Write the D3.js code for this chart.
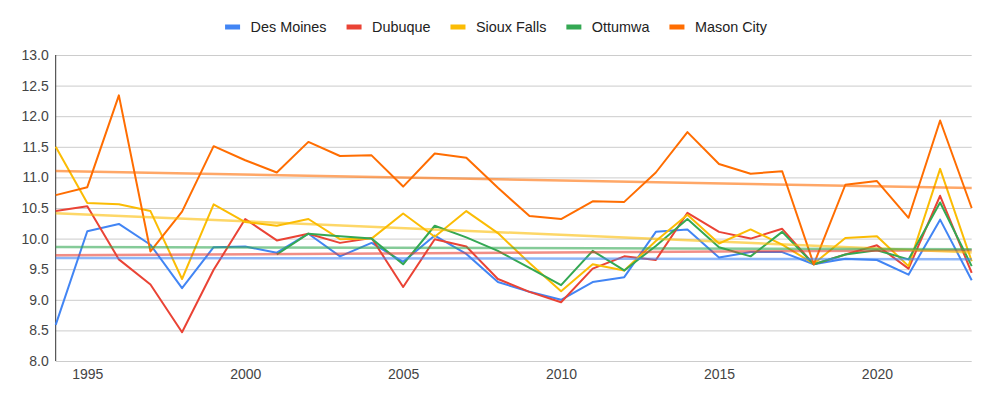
<!DOCTYPE html>
<html>
<head>
<meta charset="utf-8">
<script src="https://cdn.jsdelivr.net/npm/d3@7"></script>
<style>
  html, body { margin: 0; padding: 0; background: #fff; }
  svg { display: block; font-family: "Liberation Sans", Arial, sans-serif; }
</style>
</head>
<body>
<svg id="chart" width="992" height="404"></svg>
<script>
const years = [1994,1995,1996,1997,1998,1999,2000,2001,2002,2003,2004,2005,2006,2007,2008,2009,2010,2011,2012,2013,2014,2015,2016,2017,2018,2019,2020,2021,2022,2023];

const desMoines = [8.59,10.12,10.24,9.90,9.19,9.86,9.87,9.77,10.08,9.71,9.93,9.62,10.05,9.75,9.29,9.13,9.00,9.29,9.37,10.11,10.15,9.69,9.78,9.78,9.58,9.67,9.65,9.41,10.31,9.32];
const dubuque = [10.45,10.53,9.66,9.25,8.47,9.49,10.32,9.97,10.08,9.93,10.01,9.21,9.99,9.87,9.34,9.13,8.96,9.51,9.71,9.65,10.42,10.11,10.00,10.16,9.58,9.74,9.89,9.51,10.70,9.44];
const siouxFalls = [11.50,10.58,10.56,10.45,9.34,10.56,10.27,10.21,10.32,9.99,10.00,10.41,10.03,10.45,10.09,9.60,9.14,9.58,9.48,9.96,10.39,9.92,10.15,9.90,9.59,10.01,10.04,9.55,11.14,9.63];
const ottumwa = [null,null,null,null,null,null,null,9.74,10.08,10.04,10.00,9.58,10.21,10.02,9.80,9.52,9.24,9.80,9.48,9.88,10.32,9.86,9.71,10.11,9.58,9.74,9.81,9.66,10.59,9.55];
const masonCity = [10.71,10.84,12.34,9.79,10.44,11.51,11.28,11.08,11.58,11.35,11.36,10.85,11.39,11.32,10.83,10.37,10.32,10.61,10.60,11.08,11.74,11.22,11.06,11.10,9.58,10.88,10.94,10.34,11.93,10.50];

const seriesNames = ["Des Moines","Dubuque","Sioux Falls","Ottumwa","Mason City"];
const seriesValues = [desMoines, dubuque, siouxFalls, ottumwa, masonCity];
const seriesColors = ["#4285F4","#EA4335","#FBBC04","#34A853","#FF6D01"];

const xTicks = [1995,2000,2005,2010,2015,2020];
const yTicks = [8.0,8.5,9.0,9.5,10.0,10.5,11.0,11.5,12.0,12.5,13.0];

(function () {
const svg = d3.select("#chart");
const pLeft = 55.7, pRight = 971.7, pTop = 55, pBottom = 361;

const x = d3.scaleLinear().domain([1994, 2023]).range([pLeft, pRight]);
const y = d3.scaleLinear().domain([8, 13]).range([pBottom, pTop]);

// gridlines + y labels
const yAxis = d3.axisLeft(y).tickValues(yTicks).tickFormat(d3.format(".1f"))
  .tickSize(-(pRight - pLeft)).tickPadding(7);
const gy = svg.append("g").attr("transform", `translate(${pLeft},0)`).call(yAxis);
gy.select(".domain").remove();
gy.selectAll(".tick line").attr("stroke", "#cccccc").attr("stroke-width", 1);
gy.selectAll(".tick text").attr("fill", "#444").style("font-size", "14px")
  .style("font-family", "'Liberation Sans', Arial, sans-serif");

const xAxis = d3.axisBottom(x).tickValues(xTicks).tickFormat(d3.format("d"))
  .tickSize(0).tickPadding(8);
const gx = svg.append("g").attr("transform", `translate(0,${pBottom})`).call(xAxis);
gx.select(".domain").remove();
gx.selectAll(".tick text").attr("fill", "#444").style("font-size", "14px")
  .style("font-family", "'Liberation Sans', Arial, sans-serif");

// left baseline
svg.append("line").attr("x1", pLeft).attr("x2", pLeft).attr("y1", pTop).attr("y2", pBottom)
  .attr("stroke", "#333").attr("stroke-width", 1);

const line = d3.line()
  .defined(d => d[1] !== null)
  .x(d => x(d[0])).y(d => y(d[1]));

// series
seriesValues.forEach((vals, i) => {
  const pts = years.map((yr, j) => [yr, vals[j]]);
  svg.append("path").datum(pts)
    .attr("d", line)
    .attr("fill", "none")
    .attr("stroke", seriesColors[i])
    .attr("stroke-width", 2)
    .attr("stroke-linejoin", "round");
});

// linear trendlines computed from the data
seriesValues.forEach((vals, i) => {
  const pts = years.map((yr, j) => [yr, vals[j]]).filter(p => p[1] !== null);
  const mx = d3.mean(pts, p => p[0]), my = d3.mean(pts, p => p[1]);
  const sxy = d3.sum(pts, p => (p[0]-mx)*(p[1]-my));
  const sxx = d3.sum(pts, p => (p[0]-mx)*(p[0]-mx));
  const slope = sxy / sxx, icpt = my - slope * mx;
  const x0 = years[0], x1 = years[years.length-1];
  svg.append("line")
    .attr("x1", x(x0)).attr("y1", y(icpt + slope*x0))
    .attr("x2", x(x1)).attr("y2", y(icpt + slope*x1))
    .attr("stroke", seriesColors[i])
    .attr("stroke-width", 2.5)
    .attr("stroke-opacity", 0.6);
});

// legend
const legend = svg.append("g");
let cx = 0;
seriesNames.forEach((name, i) => {
  const g = legend.append("g");
  g.append("rect").attr("x", 0).attr("y", 24.5).attr("width", 15).attr("height", 5)
    .attr("fill", seriesColors[i]);
  const t = g.append("text").attr("x", 25.5).attr("y", 31.7).text(name)
    .attr("fill", "#222").style("font-size", "14.4px");
  const w = t.node().getComputedTextLength();
  g.attr("transform", `translate(${cx},0)`);
  cx += 25.5 + w + 20;
});
const totalW = cx - 20;
legend.attr("transform", `translate(${496 - totalW/2},0)`);
})();
</script>
</body>
</html>
